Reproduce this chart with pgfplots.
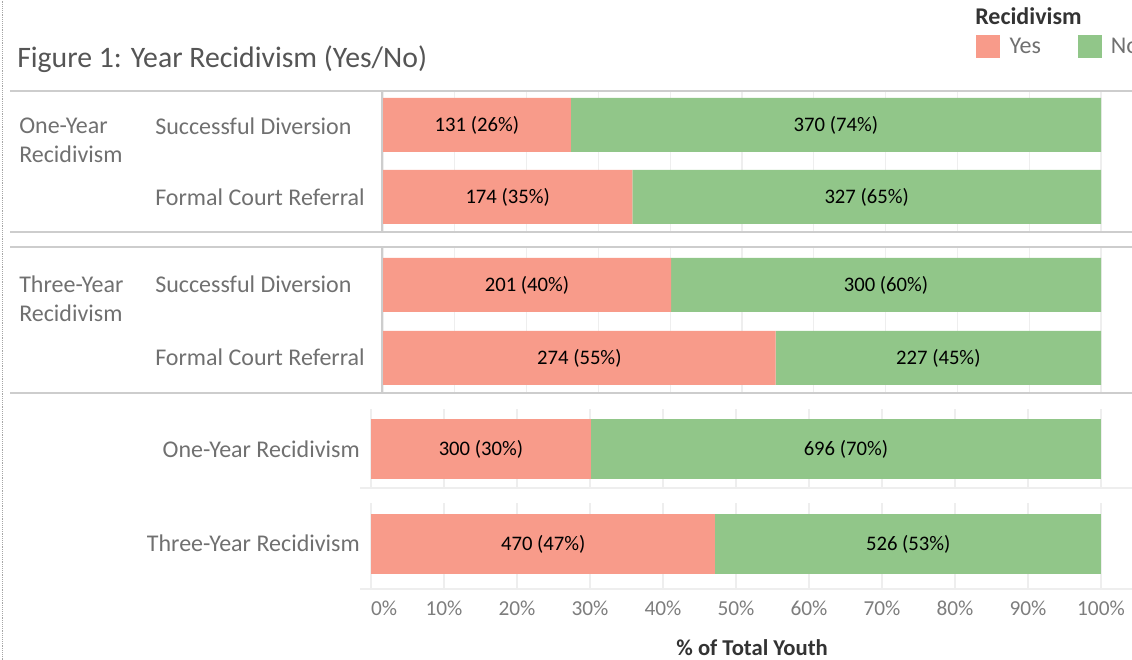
\documentclass[border=0pt]{standalone}
\usepackage{pgfplots}
\pgfplotsset{compat=1.18}
\usepackage{pgfplotstable}
\usepackage{fontspec}
\setmainfont{Carlito}
\definecolor{cyes}{RGB}{248,155,138}
\definecolor{cno}{RGB}{145,198,137}
\definecolor{sepc}{RGB}{205,205,205}
\definecolor{gridc}{RGB}{238,238,238}
\definecolor{lblc}{RGB}{112,112,112}
\definecolor{titc}{RGB}{85,85,85}
\definecolor{tickc}{RGB}{125,125,125}
\definecolor{darkc}{RGB}{51,51,51}
\newcommand\flab{\fontsize{18}{21}\selectfont}
\newcommand\fdat{\fontsize{15.5}{18}\selectfont}
\newcommand\ftick{\fontsize{16}{18}\selectfont}
\newcommand\ftit{\fontsize{22.3}{26}\selectfont}

\pgfplotstableread{
y yes no yl nl
535 26.15 73.85 {131 (26\%)} {370 (74\%)}
463 34.73 65.27 {174 (35\%)} {327 (65\%)}
}\tA
\pgfplotstableread{
y yes no yl nl
375 40.12 59.88 {201 (40\%)} {300 (60\%)}
302 54.69 45.31 {274 (55\%)} {227 (45\%)}
}\tB
\pgfplotstableread{
y yes no yl nl
211 30.12 69.88 {300 (30\%)} {696 (70\%)}
}\tC
\pgfplotstableread{
y yes no yl nl
116 47.19 52.81 {470 (47\%)} {526 (53\%)}
}\tD

\pgfplotsset{
  base/.style={scale only axis, xbar stacked, xmin=0, xmax=100, y=0.75pt,
    xtick={0,10,...,100}, ytick=\empty, xmajorgrids,
    grid style={gridc, line width=0.9pt}, axis line style={draw=none},
    major tick length=0pt, clip=false, xticklabels=\empty, anchor=south west},
}
\newcommand\bars[2]{%
  \addplot[fill=cyes, draw=none, bar width=#2, nodes near coords, point meta=explicit symbolic,
    every node near coord/.append style={anchor=center, font=\fdat, text=black}]
    table[x=yes, y=y, meta=yl]{#1};
  \addplot[fill=cno, draw=none, bar width=#2, nodes near coords, point meta=explicit symbolic,
    every node near coord/.append style={anchor=center, font=\fdat, text=black}]
    table[x=no, y=y, meta=nl]{#1};
}

\begin{document}
\begin{tikzpicture}[x=0.75pt, y=0.75pt]
\useasboundingbox (0,0) rectangle (1132,660);
\draw[densely dotted, gray!70] (2,0) -- (2,660);

% upper pane 1
\begin{axis}[base, at={(287.25pt,321pt)}, x=5.385pt, ymin=428, ymax=569,
  legend style={at={(axis description cs:0.826,1.397)}, anchor=north west, draw=none, fill=none,
    legend columns=2, font=\flab, text=lblc, inner sep=0pt,
    /tikz/every odd column/.append style={column sep=5pt},
    /tikz/every even column/.append style={column sep=25.5pt}},
  legend image code/.code={\fill[#1] (0pt,-8.6pt) rectangle (18pt,8.6pt);}]
\bars{\tA}{54}
\legend{Yes, No}
\end{axis}
% upper pane 2
\begin{axis}[base, at={(287.25pt,200.25pt)}, x=5.385pt, ymin=267, ymax=413]
\bars{\tB}{54}
\end{axis}
% lower row 1
\begin{axis}[base, at={(278.25pt,129pt)}, x=5.475pt, ymin=172, ymax=251]
\bars{\tC}{60}
\end{axis}
% lower row 2
\begin{axis}[base, at={(278.25pt,53.25pt)}, x=5.475pt, ymin=71, ymax=157,
  xticklabels={\makebox[0pt][l]{0\%},10\%,20\%,30\%,40\%,50\%,60\%,70\%,80\%,90\%,100\%},
  xticklabel style={font=\ftick, text=tickc, anchor=mid, yshift=-17.25pt},
  xlabel={\% of Total Youth},
  xlabel style={at={(axis description cs:0.522,0)}, anchor=mid, yshift=-47.5pt,
    font=\fontsize{17}{20}\selectfont\bfseries, text=darkc}]
\bars{\tD}{60}
\end{axis}

% separators
\draw[sepc, line width=1.5] (10,569) -- (1132,569);
\draw[sepc, line width=1.5] (10,428) -- (1132,428);
\draw[sepc, line width=1.5] (10,413) -- (1132,413);
\draw[sepc, line width=1.5] (10,267) -- (1132,267);
\draw[sepc, line width=1.5] (382,428) -- (382,569);
\draw[sepc, line width=1.5] (382,267) -- (382,413);
\draw[gridc, line width=1.5] (360,172) -- (1132,172);
\draw[gridc, line width=1.5] (360,71) -- (1132,71);

% texts
\node[anchor=base west, font=\ftit, text=titc, inner sep=0pt] at (17,592) {Figure 1: Year Recidivism (Yes/No)};
\node[anchor=mid west, font=\flab\bfseries, text=darkc, inner sep=0pt] at (975,639) {Recidivism};
\begin{scope}[every node/.style={anchor=mid west, font=\flab, text=lblc, inner sep=0pt}]
\node at (19,530) {One-Year};
\node at (19,501) {Recidivism};
\node at (155,529) {Successful Diversion};
\node at (155,458) {Formal Court Referral};
\node at (19,371) {Three-Year};
\node at (19,342) {Recidivism};
\node at (155,371) {Successful Diversion};
\node at (155,298) {Formal Court Referral};
\end{scope}
\node[anchor=mid east, font=\flab, text=lblc, inner sep=0pt] at (360,206) {One-Year Recidivism};
\node[anchor=mid east, font=\flab, text=lblc, inner sep=0pt] at (360,112) {Three-Year Recidivism};
\end{tikzpicture}
\end{document}
